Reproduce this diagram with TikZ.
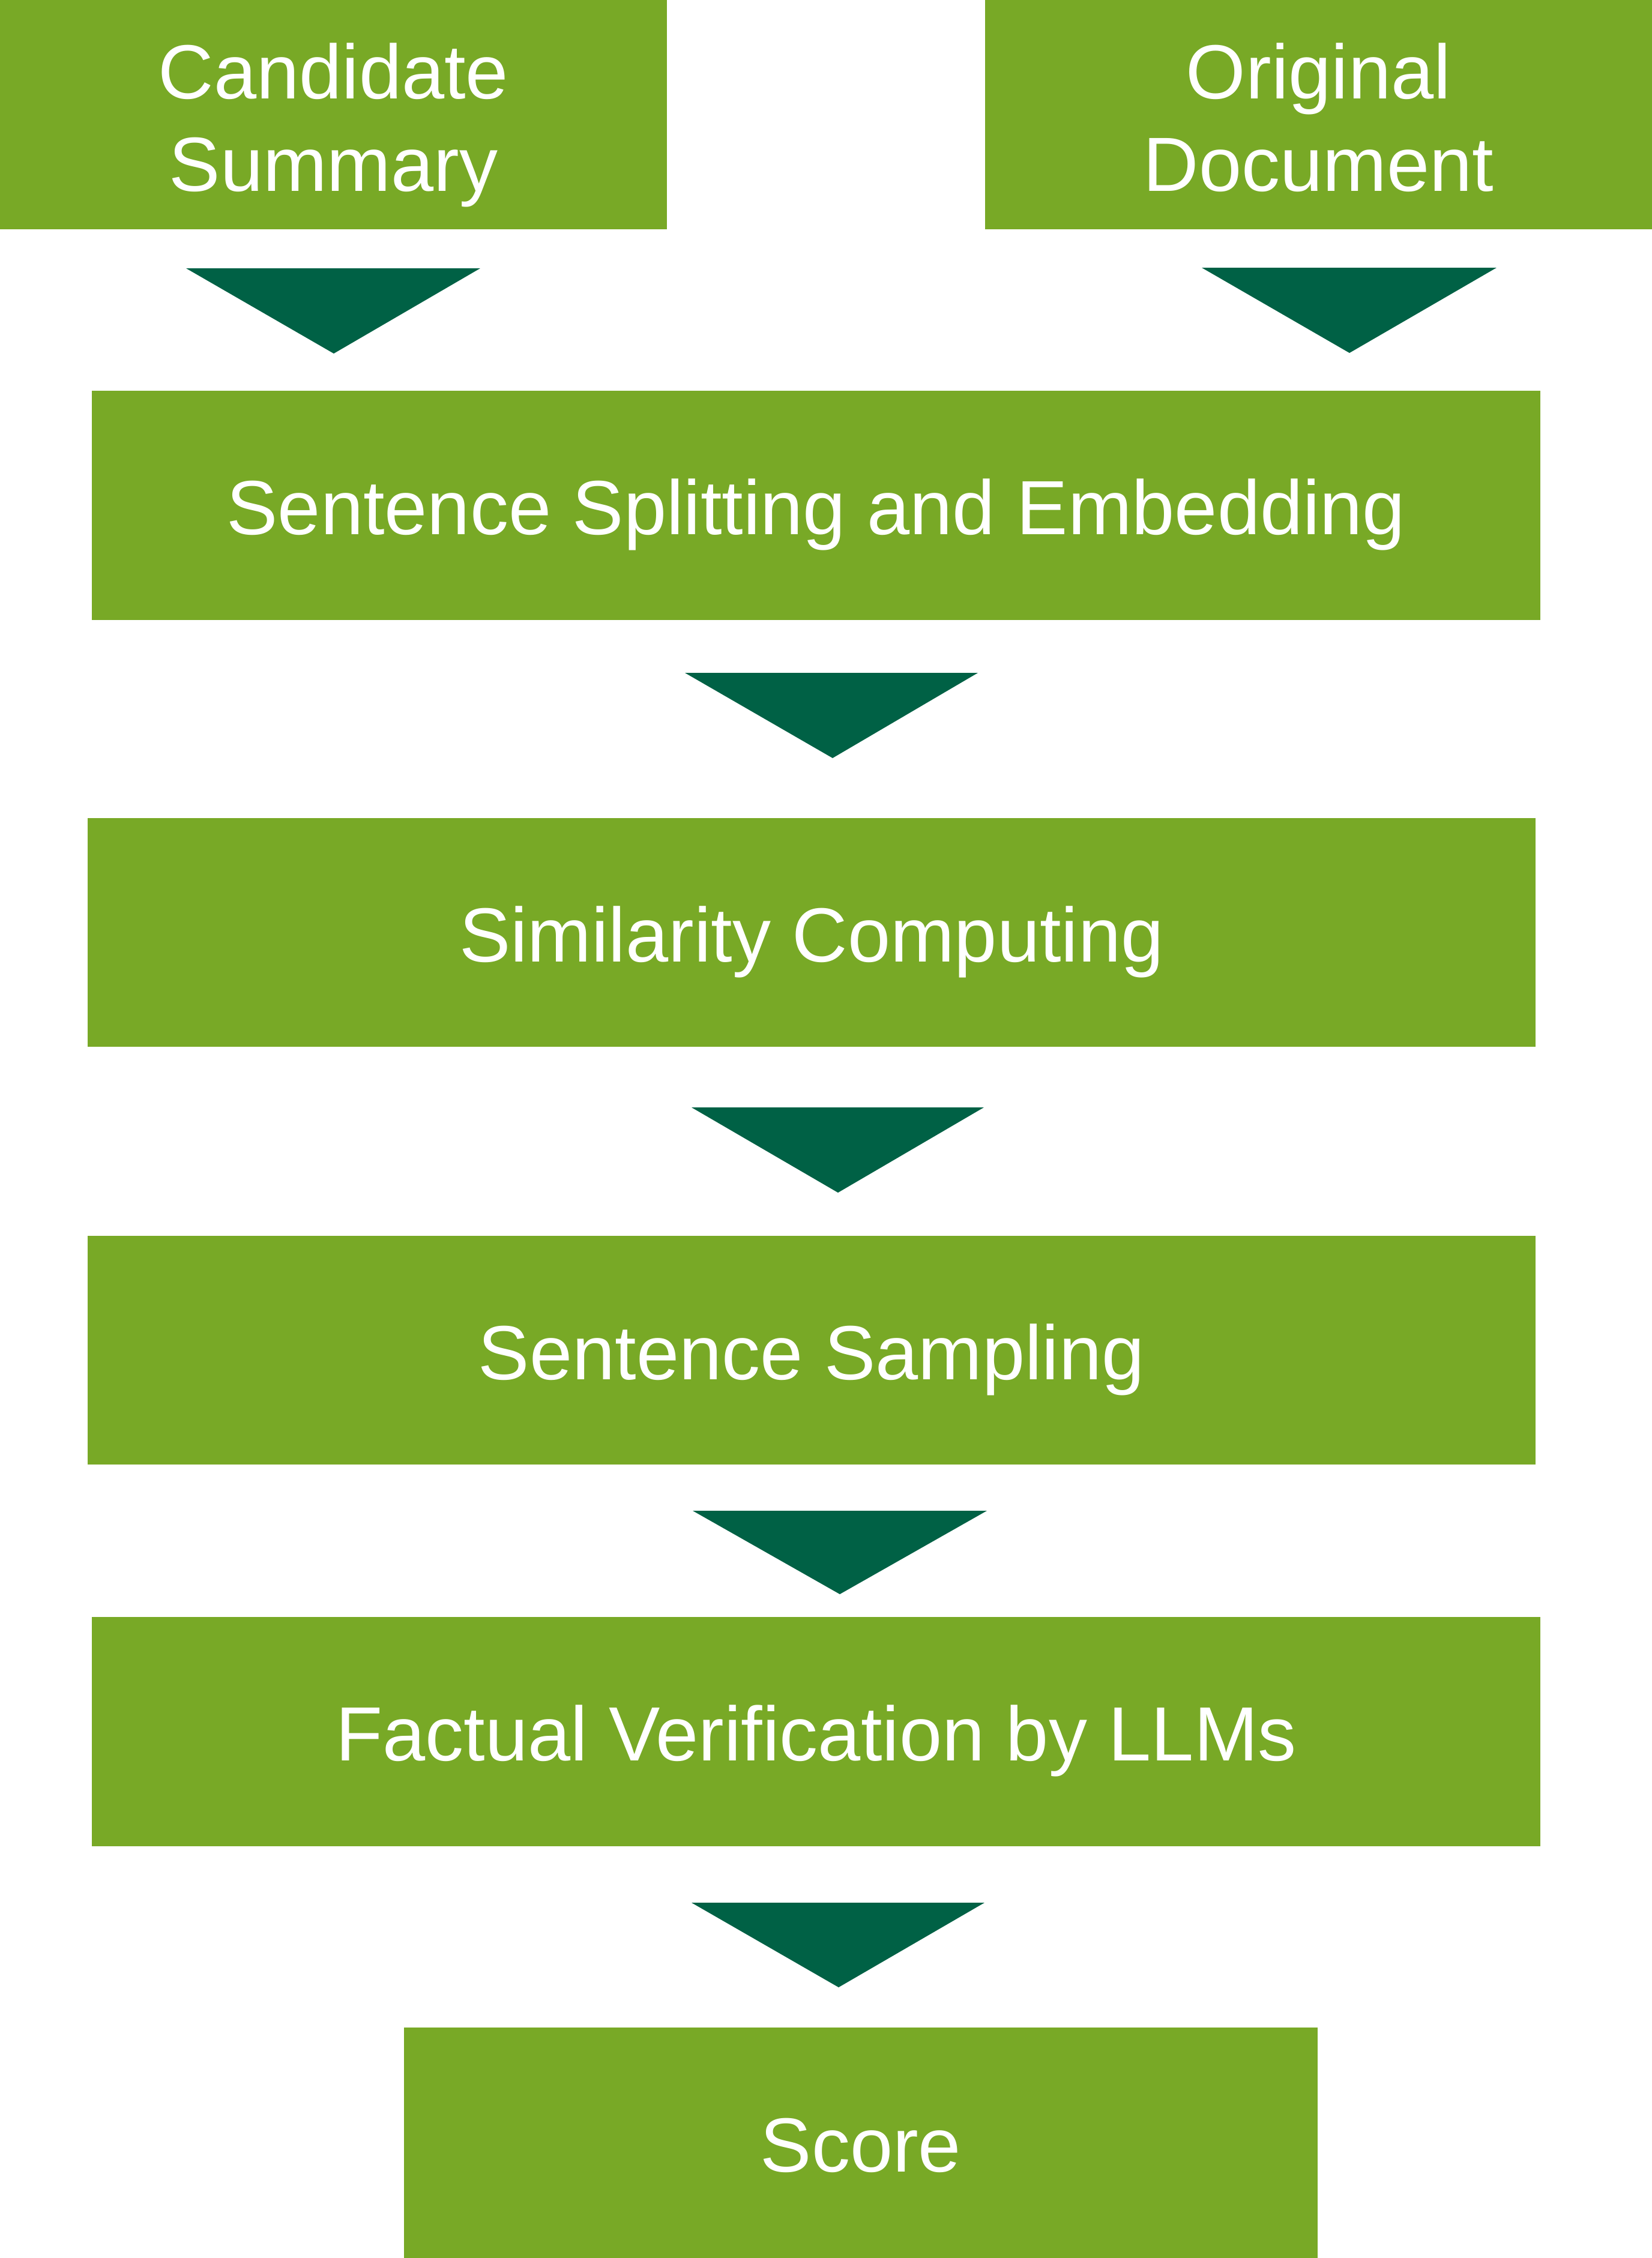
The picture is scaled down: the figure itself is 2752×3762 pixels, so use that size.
\documentclass[tikz,border=0pt]{standalone}
\usepackage{fontspec}
\setmainfont{Liberation Sans}
\definecolor{leaf}{RGB}{120,169,38}
\definecolor{pine}{RGB}{0,97,69}
\tikzset{
  stage/.style={rectangle, fill=leaf, draw=none, inner sep=0pt, text=white,
    font=\fontsize{32pt}{38.5pt}\selectfont, align=center,
    text height=24.4pt, text depth=0pt},
  stage2/.style={stage, text height=63.6pt},
  chevron/.style={fill=pine, draw=none}
}
\begin{document}
\begin{tikzpicture}[x=0.25pt, y=-0.25pt]
  \useasboundingbox (0,0) rectangle (2752,3762);
  % input boxes
  \node[stage2, minimum width=1111*0.25pt, minimum height=382*0.25pt] (cand) at (555.5,191) {Candidate\\Summary};
  \node[stage2, minimum width=1111*0.25pt, minimum height=382*0.25pt] (orig) at (2196.5,191) {Original\\Document};
  % pipeline stages
  \node[stage, minimum width=2413*0.25pt, minimum height=382*0.25pt] (split) at (1359.5,842) {Sentence Splitting and Embedding};
  \node[stage, minimum width=2412*0.25pt, minimum height=381*0.25pt] (sim) at (1352,1553.5) {Similarity Computing};
  \node[stage, minimum width=2412*0.25pt, minimum height=381*0.25pt] (samp) at (1352,2249.5) {Sentence Sampling};
  \node[stage, minimum width=2413*0.25pt, minimum height=382*0.25pt] (fact) at (1359.5,2885) {Factual Verification by LLMs};
  \node[stage, minimum width=1522*0.25pt, minimum height=384*0.25pt] (score) at (1434,3570) {Score};
  % downward chevrons between the stages
  \fill[chevron] (310,447) -- (800,447) -- (556,589) -- cycle;
  \fill[chevron] (2002,446) -- (2493,446) -- (2248,588) -- cycle;
  \fill[chevron] (1141,1121) -- (1629,1121) -- (1387,1263) -- cycle;
  \fill[chevron] (1152,1845) -- (1639,1845) -- (1396,1987) -- cycle;
  \fill[chevron] (1154,2517) -- (1644,2517) -- (1399,2656) -- cycle;
  \fill[chevron] (1152,3170) -- (1640,3170) -- (1397,3311) -- cycle;
\end{tikzpicture}
\end{document}
